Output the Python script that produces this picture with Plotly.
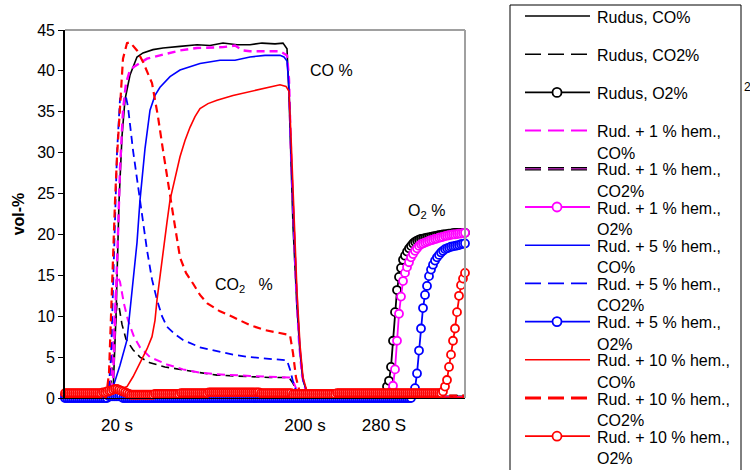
import plotly.graph_objects as go

# ---------------- data (x = sample index, ~1.9 s per sample) ----------------
tick_vals = [26, 120, 159.5]
tick_text = ["20 s", "200 s", "280 S"]

# CO / CO2 curves (sample index, vol-%)
co_rudus_x = [0, 22.5, 24, 25.5, 27, 28.5, 30, 32.5, 36, 39, 44, 49, 57.5, 66, 72.5, 79, 86, 92.5, 98.5, 105, 109, 111, 112, 113, 114, 116, 117.5, 119, 121, 124, 200]
co_rudus_y = [0.1, 0.1, 0.5, 10, 24, 32, 36.5, 39.5, 41.7, 42.2, 42.6, 42.8, 43.0, 43.2, 43.1, 43.4, 43.2, 43.2, 43.4, 43.3, 43.4, 42.7, 37, 28, 21, 11, 5.5, 2.2, 0.7, 0.2, 0.2]

co2_rudus_x = [0, 21.5, 23, 24.5, 26, 27, 28.5, 30.5, 34, 37.5, 42.5, 50, 59, 67.5, 76, 92.5, 102.5, 112, 114, 116, 118.5, 200]
co2_rudus_y = [0.1, 0.1, 2, 7, 11.6, 11.2, 9, 7.2, 5.9, 5.0, 4.3, 3.8, 3.4, 3.1, 2.8, 2.6, 2.5, 2.5, 1.8, 0.7, 0.3, 0.3]

co_1_x = [0, 22.5, 24, 25.5, 26.5, 27.5, 29, 30.5, 32.5, 34.5, 37.5, 41, 47.5, 57.5, 66, 79, 85, 89, 92.5, 100, 107.5, 111, 112, 113, 114, 115.5, 117, 118.5, 120.5, 122.5, 200]
co_1_y = [0.0, 0.0, 2, 12, 20, 28, 35.2, 38.5, 40.1, 40.5, 41.0, 41.5, 41.9, 42.5, 42.8, 42.9, 43.1, 42.5, 42.4, 42.4, 42.4, 41.9, 39, 30, 23, 14, 7, 2.8, 0.8, 0.2, 0.1]

co2_1_x = [0, 21.5, 23, 24.5, 26, 27.5, 29.5, 31.5, 34.5, 37.5, 42.5, 51, 59, 67.5, 76, 92.5, 102.5, 112.5, 114.5, 116.5, 118.5, 200]
co2_1_y = [0.0, 0.1, 3, 9, 15, 14.2, 11.5, 9.5, 7.5, 6.2, 5.0, 4.1, 3.5, 3.1, 2.9, 2.7, 2.6, 2.5, 1.8, 0.6, 0.2, 0.1]

co_5_x = [0, 22.5, 24, 27.5, 31, 34, 36, 37.5, 40, 42.5, 45, 47.5, 52.5, 57.5, 67.5, 77.5, 85, 92.5, 100, 107.5, 109.5, 111, 112, 113, 114, 116, 117.5, 119, 121, 123.5, 200]
co_5_y = [-0.1, 0.0, 1.3, 4, 7.1, 14, 19, 24.2, 30.5, 35.2, 37, 38, 39.3, 40.1, 40.9, 41.3, 41.3, 41.7, 41.9, 41.9, 41.7, 41.2, 38, 30, 24, 12, 5.9, 2.2, 0.7, 0.1, -0.1]

co2_5_x = [0, 21.5, 23, 24.5, 26, 27.5, 28.5, 30.5, 31.5, 34, 36.5, 37.5, 41, 43.5, 46, 48.5, 51, 55, 59, 67.5, 76, 84, 92.5, 102.5, 111, 112.5, 114.5, 116.5, 118.5, 200]
co2_5_y = [0.0, 0.0, 5, 18, 30, 36.6, 37.0, 36.8, 35.6, 30.3, 25.8, 24.2, 18.1, 14.5, 12, 10, 8.7, 7.8, 7.1, 6.2, 5.7, 5.3, 5.0, 4.8, 4.6, 3.5, 1.5, 0.4, 0.1, 0.0]

co_10_x = [0, 22.5, 25, 27.5, 31, 34, 37.5, 41, 43.5, 45, 46, 47.5, 49, 51, 52.5, 55, 57.5, 60, 62.5, 65, 67.5, 71.5, 76, 84, 92.5, 101, 107.5, 110.5, 112, 113, 114, 115, 116, 117.5, 119, 121, 123.5, 200]
co_10_y = [0.1, 0.3, 0.8, 1.0, 1.4, 2.6, 4.3, 6.0, 7.5, 9.5, 12, 15, 18.1, 21.5, 24.2, 27, 29.5, 31.5, 33.1, 34.4, 35.4, 36.0, 36.4, 37.0, 37.5, 38.0, 38.3, 38.1, 37.5, 32, 25, 19, 13, 6.5, 2.5, 0.8, 0.2, 0.1]

co2_10_x = [0, 20.5, 22, 23.5, 25, 26, 27.5, 29, 31, 32.5, 36, 39, 43.5, 46.5, 49, 51, 52.5, 54, 57.5, 60.5, 64, 67.5, 71, 77.5, 84, 92.5, 100, 109, 112.5, 114, 115.5, 117.5, 119.5, 200]
co2_10_y = [0.1, 0.1, 3, 14, 24, 29.5, 35.2, 41.5, 43.4, 43.5, 42.5, 41.1, 38.5, 34.4, 30.3, 27, 25, 22.5, 17.2, 15.3, 14, 12.6, 11.6, 10.6, 9.9, 8.9, 8.3, 7.9, 7.7, 5.5, 2.5, 0.6, 0.2, 0.3]

# O2 curves: one value per sample (index 0..200)
o2_rudus = [
    0.3, 0.3, 0.3, 0.3, 0.3, 0.3, 0.3, 0.3, 0.3, 0.3,
    0.3, 0.3, 0.3, 0.3, 0.3, 0.3, 0.3, 0.3, 0.3, 0.3,
    0.3, 0.3, 0.5, 0.5, 0.5, 0.5, 0.5, 0.5, 0.5, 0.3,
    0.3, 0.3, 0.3, 0.3, 0.3, 0.3, 0.3, 0.3, 0.3, 0.3,
    0.3, 0.3, 0.3, 0.3, 0.3, 0.3, 0.3, 0.3, 0.3, 0.3,
    0.3, 0.3, 0.3, 0.3, 0.3, 0.3, 0.3, 0.3, 0.3, 0.3,
    0.3, 0.3, 0.3, 0.3, 0.3, 0.3, 0.3, 0.3, 0.3, 0.3,
    0.3, 0.3, 0.3, 0.3, 0.3, 0.3, 0.3, 0.3, 0.3, 0.3,
    0.3, 0.3, 0.3, 0.3, 0.3, 0.3, 0.3, 0.3, 0.3, 0.3,
    0.3, 0.3, 0.3, 0.3, 0.3, 0.3, 0.3, 0.3, 0.3, 0.3,
    0.3, 0.3, 0.3, 0.3, 0.3, 0.3, 0.3, 0.3, 0.3, 0.3,
    0.3, 0.3, 0.3, 0.3, 0.3, 0.3, 0.3, 0.3, 0.3, 0.3,
    0.3, 0.3, 0.3, 0.3, 0.3, 0.3, 0.3, 0.3, 0.3, 0.3,
    0.3, 0.3, 0.3, 0.3, 0.3, 0.3, 0.3, 0.3, 0.3, 0.3,
    0.3, 0.3, 0.3, 0.3, 0.3, 0.3, 0.3, 0.3, 0.3, 0.3,
    0.3, 0.3, 0.3, 0.3, 0.3, 0.3, 0.3, 0.3, 0.3, 0.3,
    0.6, 1.4, 2.1, 3.8, 7.0, 10.5, 13.2, 14.8, 15.9, 16.9,
    17.4, 17.9, 18.3, 18.6, 18.9, 19.1, 19.25, 19.35, 19.45, 19.5,
    19.55, 19.6, 19.65, 19.7, 19.75, 19.8, 19.85, 19.9, 19.95, 20.0,
    20.0, 20.05, 20.1, 20.1, 20.15, 20.2, 20.2, 20.2, 20.2, 20.2,
    20.2]

o2_1 = [
    0.1, 0.1, 0.1, 0.1, 0.1, 0.1, 0.1, 0.1, 0.1, 0.1,
    0.1, 0.1, 0.1, 0.1, 0.1, 0.1, 0.1, 0.1, 0.1, 0.1,
    0.1, 0.1, 0.3, 0.3, 0.3, 0.3, 0.3, 0.3, 0.3, 0.1,
    0.1, 0.1, 0.1, 0.1, 0.1, 0.1, 0.1, 0.1, 0.1, 0.1,
    0.1, 0.1, 0.1, 0.1, 0.1, 0.1, 0.1, 0.1, 0.1, 0.1,
    0.1, 0.1, 0.1, 0.1, 0.1, 0.1, 0.1, 0.1, 0.1, 0.1,
    0.1, 0.1, 0.1, 0.1, 0.1, 0.1, 0.1, 0.1, 0.1, 0.1,
    0.1, 0.1, 0.1, 0.1, 0.1, 0.1, 0.1, 0.1, 0.1, 0.1,
    0.1, 0.1, 0.1, 0.1, 0.1, 0.1, 0.1, 0.1, 0.1, 0.1,
    0.1, 0.1, 0.1, 0.1, 0.1, 0.1, 0.1, 0.1, 0.1, 0.1,
    0.1, 0.1, 0.1, 0.1, 0.1, 0.1, 0.1, 0.1, 0.1, 0.1,
    0.1, 0.1, 0.1, 0.1, 0.1, 0.1, 0.1, 0.1, 0.1, 0.1,
    0.1, 0.1, 0.1, 0.1, 0.1, 0.1, 0.1, 0.1, 0.1, 0.1,
    0.1, 0.1, 0.1, 0.1, 0.1, 0.1, 0.1, 0.1, 0.1, 0.1,
    0.1, 0.1, 0.1, 0.1, 0.1, 0.1, 0.1, 0.1, 0.1, 0.1,
    0.1, 0.1, 0.1, 0.1, 0.1, 0.1, 0.1, 0.1, 0.1, 0.1,
    0.1, 0.1, 0.1, 0.8, 1.5, 3.5, 7.0, 10.3, 12.4, 14.3,
    15.3, 16.0, 16.6, 17.2, 17.6, 18.0, 18.3, 18.6, 18.8, 18.9,
    19.0, 19.1, 19.2, 19.3, 19.35, 19.45, 19.5, 19.6, 19.65, 19.7,
    19.8, 19.85, 19.9, 19.95, 20.0, 20.0, 20.05, 20.1, 20.1, 20.15,
    20.2]

o2_5 = [
    0.0, 0.0, 0.0, 0.0, 0.0, 0.0, 0.0, 0.0, 0.0, 0.0,
    0.0, 0.0, 0.0, 0.0, 0.0, 0.0, 0.0, 0.0, 0.0, 0.0,
    0.0, 0.0, 0.2, 0.2, 0.2, 0.2, 0.2, 0.2, 0.2, 0.0,
    0.0, 0.0, 0.0, 0.0, 0.0, 0.0, 0.0, 0.0, 0.0, 0.0,
    0.0, 0.0, 0.0, 0.0, 0.0, 0.0, 0.0, 0.0, 0.0, 0.0,
    0.0, 0.0, 0.0, 0.0, 0.0, 0.0, 0.0, 0.0, 0.0, 0.0,
    0.0, 0.0, 0.0, 0.0, 0.0, 0.0, 0.0, 0.0, 0.0, 0.0,
    0.0, 0.0, 0.0, 0.0, 0.0, 0.0, 0.0, 0.0, 0.0, 0.0,
    0.0, 0.0, 0.0, 0.0, 0.0, 0.0, 0.0, 0.0, 0.0, 0.0,
    0.0, 0.0, 0.0, 0.0, 0.0, 0.0, 0.0, 0.0, 0.0, 0.0,
    0.0, 0.0, 0.0, 0.0, 0.0, 0.0, 0.0, 0.0, 0.0, 0.0,
    0.0, 0.0, 0.0, 0.0, 0.0, 0.0, 0.0, 0.0, 0.0, 0.0,
    0.0, 0.0, 0.0, 0.0, 0.0, 0.0, 0.0, 0.0, 0.0, 0.0,
    0.0, 0.0, 0.0, 0.0, 0.0, 0.0, 0.0, 0.0, 0.0, 0.0,
    0.0, 0.0, 0.0, 0.0, 0.0, 0.0, 0.0, 0.0, 0.0, 0.0,
    0.0, 0.0, 0.0, 0.0, 0.0, 0.0, 0.0, 0.0, 0.0, 0.0,
    0.0, 0.0, 0.0, 0.0, 0.0, 0.0, 0.0, 0.0, 0.0, 0.0,
    0.0, 0.0, 0.0, 0.0, 0.5, 1.2, 3.0, 5.8, 8.5, 11.0,
    12.6, 13.7, 14.9, 15.7, 16.3, 16.8, 17.2, 17.5, 17.8, 18.0,
    18.2, 18.3, 18.4, 18.5, 18.55, 18.6, 18.65, 18.7, 18.8, 18.85,
    18.9]

o2_10 = [
    0.6, 0.6, 0.6, 0.6, 0.6, 0.6, 0.6, 0.6, 0.6, 0.6,
    0.6, 0.6, 0.6, 0.6, 0.6, 0.6, 0.6, 0.6, 0.6, 0.7,
    0.7, 0.8, 0.9, 0.9, 1.0, 1.1, 1.1, 1.0, 0.9, 0.8,
    0.7, 0.6, 0.5, 0.4, 0.4, 0.4, 0.4, 0.4, 0.4, 0.4,
    0.4, 0.4, 0.4, 0.4, 0.4, 0.5, 0.5, 0.5, 0.5, 0.5,
    0.5, 0.5, 0.5, 0.5, 0.5, 0.5, 0.5, 0.5, 0.6, 0.6,
    0.6, 0.6, 0.6, 0.6, 0.6, 0.6, 0.6, 0.6, 0.6, 0.6,
    0.6, 0.6, 0.7, 0.7, 0.7, 0.7, 0.7, 0.7, 0.7, 0.7,
    0.7, 0.7, 0.7, 0.7, 0.7, 0.7, 0.7, 0.7, 0.7, 0.7,
    0.7, 0.7, 0.7, 0.7, 0.7, 0.7, 0.7, 0.7, 0.6, 0.6,
    0.6, 0.6, 0.6, 0.6, 0.6, 0.6, 0.6, 0.6, 0.6, 0.6,
    0.6, 0.6, 0.6, 0.6, 0.5, 0.5, 0.5, 0.5, 0.5, 0.5,
    0.5, 0.5, 0.5, 0.5, 0.5, 0.5, 0.5, 0.5, 0.5, 0.5,
    0.5, 0.5, 0.5, 0.5, 0.5, 0.5, 0.6, 0.6, 0.6, 0.6,
    0.6, 0.6, 0.6, 0.6, 0.6, 0.6, 0.6, 0.6, 0.6, 0.6,
    0.6, 0.6, 0.6, 0.6, 0.6, 0.6, 0.6, 0.6, 0.6, 0.6,
    0.6, 0.6, 0.6, 0.6, 0.6, 0.6, 0.6, 0.6, 0.6, 0.6,
    0.6, 0.6, 0.6, 0.6, 0.6, 0.6, 0.6, 0.6, 0.6, 0.6,
    0.6, 0.6, 0.6, 0.6, 0.6, 0.6, 0.6, 0.6, 0.6, 0.8,
    1.4, 2.2, 3.8, 5.3, 7.0, 8.5, 10.5, 12.5, 13.8, 14.6,
    15.3]

legend_labels = [
    ["Rudus, CO%"], ["Rudus, CO2%"], ["Rudus, O2%"],
    ["Rud. + 1 % hem.,", "CO%"], ["Rud. + 1 % hem.,", "CO2%"], ["Rud. + 1 % hem.,", "O2%"],
    ["Rud. + 5 % hem.,", "CO%"], ["Rud. + 5 % hem.,", "CO2%"], ["Rud. + 5 % hem.,", "O2%"],
    ["Rud. + 10 % hem.,", "CO%"], ["Rud. + 10 % hem.,", "CO2%"], ["Rud. + 10 % hem.,", "O2%"],
]

# ---------------- styles ----------------
BLACK, MAG, BLUE, RED = "#000000", "#ff00ff", "#0000ff", "#ff0000"
DASH = "8px,5px"
FONT = "Liberation Sans, Arial, sans-serif"

fig = go.Figure()

def line_trace(x, y, color, width, dash=None):
    fig.add_trace(go.Scatter(x=x, y=y, mode="lines", showlegend=False,
                             line=dict(color=color, width=width, dash=dash)))

def o2_trace(y, color):
    fig.add_trace(go.Scatter(x=list(range(len(y))), y=y, mode="lines+markers",
                             showlegend=False, cliponaxis=False,
                             line=dict(color=color, width=1.8),
                             marker=dict(symbol="circle", size=8, color="white",
                                         line=dict(color=color, width=1.8))))

line_trace(co_rudus_x, co_rudus_y, BLACK, 1.6)
line_trace(co2_rudus_x, co2_rudus_y, BLACK, 1.6, DASH)
o2_trace(o2_rudus, BLACK)
line_trace(co_1_x, co_1_y, MAG, 2.4, DASH)
line_trace(co2_1_x, co2_1_y, MAG, 2.0, DASH)
o2_trace(o2_1, MAG)
line_trace(co_5_x, co_5_y, BLUE, 1.6)
line_trace(co2_5_x, co2_5_y, BLUE, 1.8, DASH)
o2_trace(o2_5, BLUE)
line_trace(co_10_x, co_10_y, RED, 1.6)
line_trace(co2_10_x, co2_10_y, RED, 2.2, DASH)
o2_trace(o2_10, RED)

# ---------------- layout helpers (page pixels -> paper) ----------------
L, R, T, B = 65, 465, 30, 398
def px2x(px):
    return (px - L) / (R - L)
def py2y(py):
    return (B - py) / (B - T)

shapes = []
annotations = []

# gray top/right frame
shapes.append(dict(type="line", xref="paper", yref="paper", x0=0, x1=1, y0=1, y1=1,
                   line=dict(color="#a0a0a0", width=2)))
shapes.append(dict(type="line", xref="paper", yref="paper", x0=1, x1=1, y0=0, y1=1,
                   line=dict(color="#a0a0a0", width=2)))

# legend box
shapes.append(dict(type="rect", xref="paper", yref="paper",
                   x0=px2x(510), x1=px2x(741), y0=py2y(490), y1=py2y(5),
                   line=dict(color="black", width=1)))

leg_styles = [
    (BLACK, 1.6, None, False), (BLACK, 1.6, "16px,7px", False), (BLACK, 1.8, None, True),
    (MAG, 2.0, "16px,7px", False), ("dual", 3.0, "16px,7px", False), (MAG, 1.8, None, True),
    (BLUE, 1.6, None, False), (BLUE, 1.6, "16px,7px", False), (BLUE, 1.8, None, True),
    (RED, 1.6, None, False), (RED, 3.0, "16px,7px", False), (RED, 1.8, None, True),
]

for k, (lines, (col, w, dsh, mk)) in enumerate(zip(legend_labels, leg_styles)):
    ty = 17 + 38.2 * k
    ly = ty - 1
    if col == "dual":
        shapes.append(dict(type="line", xref="paper", yref="paper", x0=px2x(525), x1=px2x(590),
                           y0=py2y(ly), y1=py2y(ly), line=dict(color="#000000", width=3.4, dash=dsh)))
        shapes.append(dict(type="line", xref="paper", yref="paper", x0=px2x(525), x1=px2x(590),
                           y0=py2y(ly), y1=py2y(ly), line=dict(color="#a020a0", width=1.4, dash=dsh)))
    else:
        shapes.append(dict(type="line", xref="paper", yref="paper", x0=px2x(525), x1=px2x(590),
                           y0=py2y(ly), y1=py2y(ly), line=dict(color=col, width=w, dash=dsh)))
    if mk:
        shapes.append(dict(type="circle", xref="paper", yref="paper",
                           xsizemode="pixel", ysizemode="pixel",
                           xanchor=px2x(557), yanchor=py2y(ly),
                           x0=-4.5, x1=4.5, y0=-4.5, y1=4.5,
                           fillcolor="white", line=dict(color=col, width=1.8)))
    for j, txt in enumerate(lines):
        annotations.append(dict(text=txt, xref="paper", yref="paper",
                                x=px2x(595), y=py2y(ty + 21.5 * j),
                                xanchor="left", yanchor="middle", showarrow=False,
                                font=dict(family=FONT, size=16, color="black")))

# in-plot labels
annotations.append(dict(text="CO %", x=133, y=40.1, xref="x", yref="y", showarrow=False,
                        xanchor="center", yanchor="middle",
                        font=dict(family=FONT, size=16, color="black")))
annotations.append(dict(text="CO<sub>2</sub>\u00a0\u00a0\u00a0%", x=74, y=13.8, xref="x", yref="y",
                        showarrow=False, xanchor="left", yanchor="middle",
                        font=dict(family=FONT, size=16, color="black")))
annotations.append(dict(text="O<sub>2</sub> %", x=180.5, y=22.8, xref="x", yref="y",
                        showarrow=False, xanchor="center", yanchor="middle",
                        font=dict(family=FONT, size=16, color="black")))
annotations.append(dict(text="2", xref="paper", yref="paper", x=px2x(742), y=py2y(87),
                        xanchor="left", yanchor="middle", showarrow=False,
                        font=dict(family=FONT, size=12, color="black")))

fig.update_layout(
    width=750, height=470, autosize=False,
    margin=dict(l=L, r=750 - R, t=T, b=470 - B, pad=0),
    paper_bgcolor="white", plot_bgcolor="white",
    font=dict(family=FONT, size=16, color="black"),
    shapes=shapes, annotations=annotations,
    showlegend=False,
)
fig.update_xaxes(range=[0, 200], showgrid=False, zeroline=False,
                 showline=True, linecolor="black", linewidth=1,
                 ticks="", tickvals=tick_vals, ticktext=tick_text,
                 tickfont=dict(family=FONT, size=17, color="black"),
                 ticklabelstandoff=12)
fig.update_yaxes(range=[0, 45], dtick=5, showgrid=False, zeroline=False,
                 showline=True, linecolor="black", linewidth=1.6,
                 ticks="outside", ticklen=5, tickwidth=1, tickcolor="black",
                 tickfont=dict(family=FONT, size=16, color="black"),
                 title=dict(text="<b>vol-%</b>", font=dict(family=FONT, size=16, color="black"),
                            standoff=9))

fig.write_html("out.html")
